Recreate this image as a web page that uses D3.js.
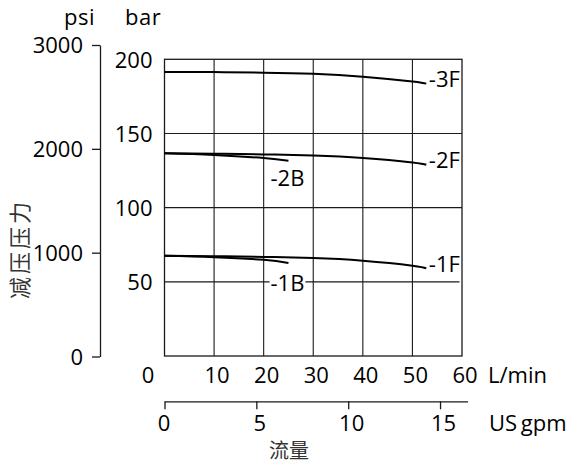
<!DOCTYPE html>
<html><head><meta charset="utf-8">
<script src="https://cdn.jsdelivr.net/npm/d3@7"></script>
<style>
body{margin:0;background:#fff;}
svg{display:block;font-family:"Open Sans","Noto Sans",sans-serif;}
</style></head>
<body>
<svg id="chart" width="569" height="467"></svg>
<script>
// ---- data ----
const lpmTicks = [0,10,20,30,40,50,60];
const gpmTicks = [0,5,10,15];
const psiTicks = [0,1000,2000,3000];
const barTicks = [50,100,150,200];
const barGrid = [50,100,150];
const seriesNames = ["-3F","-2F","-2B","-1F","-1B"];
const flow3F = [0,10,20,30,40,50,52.8];
const bar3F  = [191.5,191.4,191.0,190.2,188.3,185.0,183.6];
const flow2F = [0,10,20,30,40,50,52.8];
const bar2F  = [136.6,136.4,135.9,135.1,133.5,130.5,128.9];
const flow2B = [0,10,20,25];
const bar2B  = [136.6,135.5,133.4,131.6];
const flow1F = [0,10,20,30,40,50,52.8];
const bar1F  = [67.5,67.3,66.8,66.0,64.2,60.9,59.1];
const flow1B = [0,10,20,25];
const bar1B  = [67.5,66.6,64.8,62.7];

const svg = d3.select("#chart");
const FS = 22;
const FF = "Open Sans";

const x = d3.scaleLinear().domain([0,60]).range([164.5,462]);
const xg = d3.scaleLinear().domain([0,16.5]).range([164.5,467.6]);
const yb = d3.scaleLinear().domain([0,200]).range([356,59.3]);
const yp = d3.scaleLinear().domain([0,3000]).range([356.5,45]);

const ink = "#1a1a1a";

// grid
const g = svg.append("g");
g.selectAll(".vg").data(lpmTicks.slice(1,-1)).enter().append("line")
  .attr("x1",d=>x(d)).attr("x2",d=>x(d)).attr("y1",yb(200)).attr("y2",yb(0))
  .attr("stroke",ink).attr("stroke-width",1.1);
g.selectAll(".hg").data(barGrid).enter().append("line")
  .attr("x1",x(0)).attr("x2",d=>d===50?x(59.5):x(60)).attr("y1",d=>yb(d)).attr("y2",d=>yb(d))
  .attr("stroke",ink).attr("stroke-width",1.1);
g.append("rect").attr("x",x(0)).attr("y",yb(200)).attr("width",x(60)-x(0)).attr("height",yb(0)-yb(200))
  .attr("fill","none").attr("stroke",ink).attr("stroke-width",1.3);

// curves
const line = d3.line().x(d=>x(d[0])).y(d=>yb(d[1])).curve(d3.curveNatural);
const series = [
  {name:"-3F", f:flow3F, b:bar3F},
  {name:"-2F", f:flow2F, b:bar2F},
  {name:"-2B", f:flow2B, b:bar2B},
  {name:"-1F", f:flow1F, b:bar1F},
  {name:"-1B", f:flow1B, b:bar1B}
];
series.forEach(s=>{
  const pts = s.f.map((v,i)=>[v,s.b[i]]);
  svg.append("path").datum(pts).attr("d",line).attr("fill","none")
    .attr("stroke","#000").attr("stroke-width",2);
  const last = pts[pts.length-1];
  if (s.name.endsWith("F")) {
    svg.append("text").attr("x",x(last[0])+2.5).attr("y",yb(last[1])+3.5)
      .attr("font-size",FS).attr("font-family",FF).attr("fill","#000").text(s.name);
  } else if (s.name==="-2B") {
    svg.append("text").attr("x",x(last[0])-1).attr("y",yb(last[1])+25.5)
      .attr("text-anchor","middle").attr("font-size",FS).attr("font-family",FF).attr("fill","#000").text(s.name);
  } else {
    const t = svg.append("text").attr("x",x(last[0])-1).attr("y",yb(50)+9.5)
      .attr("text-anchor","middle").attr("font-size",FS).attr("font-family",FF).attr("fill","#000").text(s.name);
    const bb = t.node().getBBox();
    svg.insert("rect","text").attr("x",bb.x-1).attr("y",bb.y+4).attr("width",bb.width+2).attr("height",bb.height-8)
      .attr("fill","#fff");
    t.raise();
  }
});

const fmt = d3.format("d");

// bar axis labels
const barAx = svg.append("g").attr("transform",`translate(${x(0)},0)`)
  .call(d3.axisLeft(yb).tickValues(barTicks).tickFormat(fmt).tickSize(0).tickPadding(12));
barAx.select(".domain").remove();
barAx.selectAll("text").attr("font-size",FS).attr("font-family",FF).attr("fill","#000").attr("dy","0.36em");

// psi axis
const psiAx = svg.append("g").attr("transform","translate(100,0)")
  .call(d3.axisLeft(yp).tickValues(psiTicks).tickFormat(fmt).tickSize(8).tickSizeOuter(0).tickPadding(9));
psiAx.select(".domain").attr("stroke",ink).attr("stroke-width",1.3);
psiAx.selectAll(".tick line").attr("stroke",ink).attr("stroke-width",1.3);
psiAx.selectAll("text").attr("font-size",FS).attr("font-family",FF).attr("fill","#000").attr("dy","0.36em");

// L/min axis labels
const lAx = svg.append("g").attr("transform",`translate(0,${yb(0)})`)
  .call(d3.axisBottom(x).tickValues(lpmTicks).tickFormat(fmt).tickSize(0).tickPadding(11));
lAx.select(".domain").remove();
lAx.selectAll("text").attr("font-size",FS).attr("font-family",FF).attr("fill","#000")
  .attr("dx",d=>d===0?-17:2.5);

// gpm axis
const gAx = svg.append("g").attr("transform","translate(0,401.3)")
  .call(d3.axisBottom(xg).tickValues(gpmTicks).tickFormat(fmt).tickSize(8).tickSizeOuter(0).tickPadding(6));
gAx.select(".domain").attr("stroke",ink).attr("stroke-width",1.3);
gAx.selectAll(".tick line").attr("stroke",ink).attr("stroke-width",1.3);
gAx.selectAll("text").attr("font-size",FS).attr("font-family",FF).attr("fill","#000")
  .attr("dx",d=>d===0?-1:3);

// unit labels
svg.append("text").attr("x",488).attr("y",382.5).attr("font-size",FS).attr("font-family",FF).text("L/min");
svg.append("text").attr("x",489).attr("y",431).attr("font-size",FS).attr("font-family",FF).attr("word-spacing","-2").text("US gpm");
svg.append("text").attr("x",64).attr("y",25).attr("font-size",FS).attr("font-family",FF).attr("letter-spacing","0.5").text("psi");
svg.append("text").attr("x",125).attr("y",25).attr("font-size",FS).attr("font-family",FF).attr("letter-spacing","0.5").text("bar");

// titles
svg.append("text").attr("x",289).attr("y",458).attr("text-anchor","middle")
  .attr("font-family","'Noto Sans CJK SC'").attr("font-size",20).attr("fill","#333").text("流量");
svg.append("text").attr("transform","translate(28,249) rotate(-90)").attr("text-anchor","middle")
  .attr("font-family","'Noto Sans CJK SC'").attr("font-size",22).attr("letter-spacing","3").attr("fill","#333").text("减压压力");
</script>
</body></html>
